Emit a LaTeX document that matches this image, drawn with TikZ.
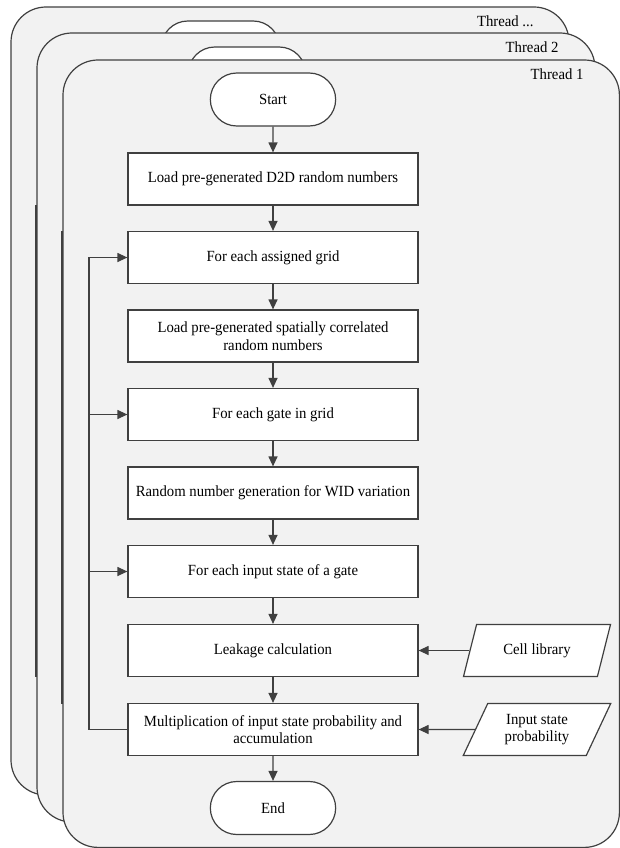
\documentclass[tikz,border=0pt]{standalone}
\usepackage{fontspec}
\setmainfont{Liberation Serif}[FakeStretch=0.95]
\usetikzlibrary{positioning,shapes.misc,shapes.geometric,arrows.meta}
\definecolor{edgegray}{HTML}{404040}
\definecolor{panelgray}{HTML}{F2F2F2}
\tikzset{
  panel/.style={draw=edgegray, line width=1.2pt, fill=panelgray, rounded corners=35pt},
  proc/.style={draw=edgegray, line width=1.2pt, fill=white, minimum width=290pt, minimum height=52pt, align=center, inner sep=0pt},
  term/.style={rounded rectangle, draw=edgegray, line width=1.2pt, fill=white, minimum width=132pt, minimum height=53pt},
  data/.style={trapezium, trapezium left angle=62.6, trapezium right angle=117.4, trapezium stretches=true, draw=edgegray, line width=1.2pt, fill=white, minimum width=148pt, minimum height=52pt, align=center, inner sep=0pt},
  flow/.style={draw=edgegray, line width=1.2pt, -{Triangle[length=10pt,width=9pt]}},
  loopline/.style={draw=edgegray, line width=1.2pt},
  every node/.style={font=\fontsize{15.5}{17.5}\selectfont}
}
\begin{document}
\begin{tikzpicture}[x=1pt,y=-1pt]
      \useasboundingbox (0,0) rectangle (620,848);

      \draw[panel] (11,7) rectangle (569,795);
      \node (tlabel3) [anchor=base east] at (537,27) {Thread ...};
      \node[term, minimum width=125pt] (start3) at (220.5,47.5) {};
      \draw[loopline] (36,205) -- (36,677);

      \draw[panel] (37,33) rectangle (595,822);
      \node (tlabel2) [anchor=base east] at (562,53) {Thread 2};
      \node[term, minimum width=124pt] (start2) at (247,73.5) {};
      \draw[loopline] (62,231) -- (62,704);

      \draw[panel] (63,60) rectangle (619.4,847.4);
      \node (tlabel1) [anchor=base east] at (587,80) {Thread 1};

      \node[term] (start) at (273,99.5) {Start};
      \node[proc] (load) at (273,179) {Load pre-generated D2D random numbers};
      \node[proc] (grid) at (273,257.5) {For each assigned grid};
      \node[proc] (spatial) at (273,336) {Load pre-generated spatially correlated\\random numbers};
      \node[proc] (gate) at (273,414.5) {For each gate in grid};
      \node[proc] (wid) at (273,493) {Random number generation for WID variation};
      \node[proc] (state) at (273,571.5) {For each input state of a gate};
      \node[proc] (leak) at (273,650.5) {Leakage calculation};
      \node[proc] (mult) at (273,729.5) {Multiplication of input state probability and\\accumulation};
      \node[term] (stop) at (273,808) {End};

      \node[data] (lib) at (537,650.5) {Cell library};
      \node[data] (prob) at (537,729.5) {Input state\\probability};
      \coordinate (loop) at (89,0);

      \draw[flow] (start) -- (load);
      \draw[flow] (load) -- (grid);
      \draw[flow] (grid) -- (spatial);
      \draw[flow] (spatial) -- (gate);
      \draw[flow] (gate) -- (wid);
      \draw[flow] (wid) -- (state);
      \draw[flow] (state) -- (leak);
      \draw[flow] (leak) -- (mult);
      \draw[flow] (mult) -- (stop);

      \draw[flow] (lib.west) -- (leak.east);
      \draw[flow] (prob.west) -- (mult.east);

      \draw[flow] (mult.west) -- (mult.west -| loop) |- (grid.west);
      \draw[flow] (gate.west -| loop) -- (gate.west);
      \draw[flow] (state.west -| loop) -- (state.west);
\end{tikzpicture}
\end{document}
